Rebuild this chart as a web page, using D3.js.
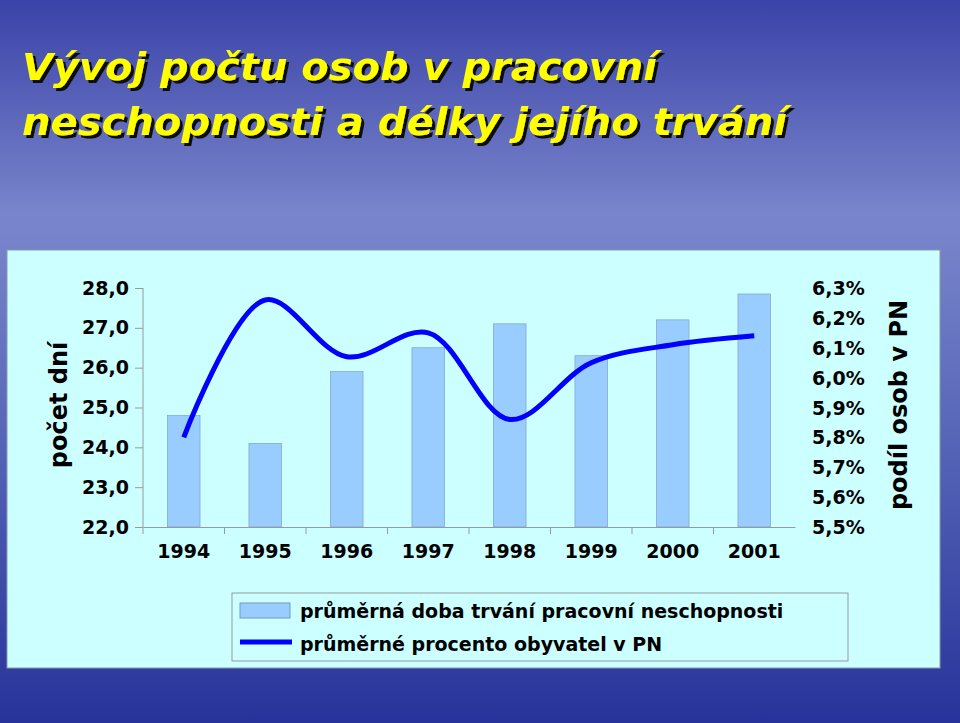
<!DOCTYPE html>
<html><head><meta charset="utf-8">
<script src="https://cdn.jsdelivr.net/npm/d3@7"></script>
<style>body{margin:0;}svg{display:block;}</style>
</head><body>
<script>
const years = ["1994","1995","1996","1997","1998","1999","2000","2001"];
const days = [24.8, 24.1, 25.9, 26.5, 27.1, 26.3, 27.2, 27.85];
const share = [5.80, 6.26, 6.07, 6.15, 5.86, 6.05, 6.11, 6.14];
const leftTicks = [22,23,24,25,26,27,28];
const rightTicks = [5.5,5.6,5.7,5.8,5.9,6.0,6.1,6.2,6.3];
const fmt = v => v.toFixed(1).replace(".", ",");

const W=960,H=723;
const svg=d3.select("body").append("svg").attr("width",W).attr("height",H);
const defs=svg.append("defs");
const g1=defs.append("linearGradient").attr("id","bg").attr("x1",0).attr("y1",0).attr("x2",0).attr("y2",1);
g1.append("stop").attr("offset","0").attr("stop-color","#3a43a8");
g1.append("stop").attr("offset","0.3").attr("stop-color","#7a86cc");
g1.append("stop").attr("offset","0.6").attr("stop-color","#5866b8");
g1.append("stop").attr("offset","1").attr("stop-color","#27339a");
svg.append("rect").attr("width",W).attr("height",H).attr("fill","url(#bg)");
const f=defs.append("filter").attr("id","sh").attr("x","-5%").attr("y","-20%").attr("width","110%").attr("height","140%");
f.append("feDropShadow").attr("dx",3).attr("dy",3).attr("stdDeviation",0.5).attr("flood-color","#111").attr("flood-opacity",1);

const title=["Vývoj počtu osob v pracovní","neschopnosti a délky jejího trvání"];
title.forEach((t,i)=>{
  svg.append("text").attr("x",22).attr("y",80+i*55).text(t).attr("filter","url(#sh)")
    .attr("font-family","DejaVu Sans").attr("font-weight","bold").attr("font-style","italic")
    .attr("font-size",37).attr("fill","#ffff00").attr("textLength",i==0?635:765).attr("lengthAdjust","spacingAndGlyphs");
});

svg.append("rect").attr("x",7).attr("y",250).attr("width",933).attr("height",418)
  .attr("fill","#ccffff").attr("stroke","#8899aa");

const x=d3.scaleBand().domain(years).range([143,795]);
const yL=d3.scaleLinear().domain([22,28]).range([527,288]);
const yR=d3.scaleLinear().domain([5.5,6.3]).range([527,288]);
const font="Verdana, DejaVu Sans";

svg.selectAll(".bar").data(years).enter().append("rect")
  .attr("x",d=>x(d)+x.bandwidth()*0.3).attr("width",x.bandwidth()*0.4)
  .attr("y",(d,i)=>yL(days[i])).attr("height",(d,i)=>527-yL(days[i]))
  .attr("fill","#99ccff").attr("stroke","#7799bb").attr("stroke-width",0.6);

const la=svg.append("g").attr("transform","translate(143,0)")
  .call(d3.axisLeft(yL).tickValues(leftTicks).tickFormat(fmt).tickSize(8).tickPadding(6));
la.selectAll("text").attr("font-family",font).attr("font-weight","bold").attr("font-size",19).attr("fill","#000");
la.selectAll("line,path").attr("stroke","#999");
la.select("path").attr("d","M0,288V527");
const ba=svg.append("g").attr("transform","translate(0,527)")
  .call(d3.axisBottom(x).tickSize(0).tickPadding(18));
ba.selectAll("text").attr("font-family",font).attr("font-weight","bold").attr("font-size",19).attr("fill","#000");
ba.select("path").attr("stroke","#999");
years.forEach(d=>ba.append("line").attr("x1",x(d)).attr("x2",x(d)).attr("y1",0).attr("y2",7).attr("stroke","#999"));
svg.append("g").selectAll("text").data(rightTicks).enter().append("text")
  .attr("x",812).attr("y",d=>yR(d)+7).text(d=>d.toFixed(1).replace(".",",")+"%")
  .attr("font-family",font).attr("font-weight","bold").attr("font-size",19);

const line=d3.line().x((d,i)=>x(years[i])+x.bandwidth()/2).y(d=>yR(d)).curve(d3.curveCatmullRom.alpha(0.5));
svg.append("path").datum(share).attr("d",line).attr("fill","none").attr("stroke","#0000ff").attr("stroke-width",5);

svg.append("text").attr("transform","translate(67,405) rotate(-90)").attr("text-anchor","middle")
  .text("počet dní").attr("font-family",font).attr("font-weight","bold").attr("font-size",24);
svg.append("text").attr("transform","translate(907,405) rotate(-90)").attr("text-anchor","middle")
  .text("podíl osob v PN").attr("font-family",font).attr("font-weight","bold").attr("font-size",24);

svg.append("rect").attr("x",232).attr("y",593).attr("width",616).attr("height",68).attr("fill","none").attr("stroke","#999");
svg.append("rect").attr("x",240).attr("y",603).attr("width",50).attr("height",15).attr("fill","#99ccff").attr("stroke","#7799bb");
svg.append("line").attr("x1",240).attr("x2",292).attr("y1",642).attr("y2",642).attr("stroke","#0000ff").attr("stroke-width",5);
[["průměrná doba trvání pracovní neschopnosti",618],["průměrné procento obyvatel v PN",651]].forEach(([t,y])=>
  svg.append("text").attr("x",300).attr("y",y).text(t).attr("font-family",font).attr("font-weight","bold").attr("font-size",19));
</script>
</body></html>
